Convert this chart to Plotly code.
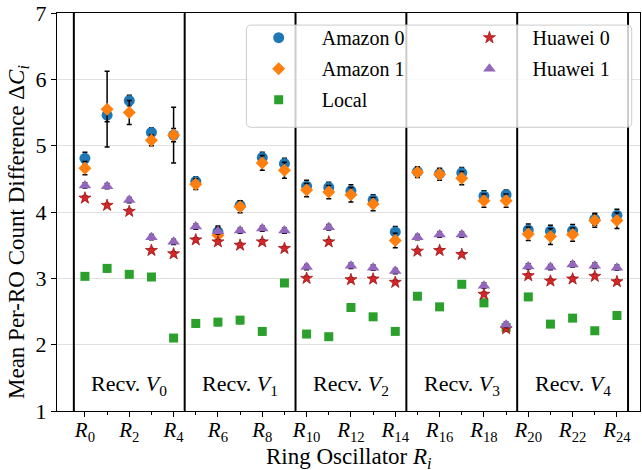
import plotly.graph_objects as go

ro_index = list(range(25))
tick_vals = list(range(0, 25, 2))
tick_text = [f"<i>R</i><sub>{i}</sub>" for i in tick_vals]
group_centers = [2, 7, 12, 17, 22]
group_labels = [f"Recv. <i>V</i><sub>{i}</sub>" for i in range(5)]
separators = [-0.5, 4.5, 9.5, 14.5, 19.5, 24.5]

amazon0 = [4.81, 5.46, 5.68, 5.20, 5.16, 4.46, 3.70, 4.10, 4.82, 4.73, 4.39, 4.37, 4.32, 4.18, 3.70,
           4.61, 4.58, 4.59, 4.24, 4.26, 3.73, 3.71, 3.72, 3.89, 3.95]
amazon0_err = [0.09, 0.10, 0.08, 0.07, 0.10, 0.07, 0.09, 0.07, 0.08, 0.08, 0.09, 0.08, 0.09, 0.08, 0.08,
               0.07, 0.07, 0.08, 0.08, 0.07, 0.09, 0.09, 0.09, 0.09, 0.09]
amazon1 = [4.66, 5.55, 5.50, 5.08, 5.16, 4.42, 3.65, 4.08, 4.74, 4.63, 4.33, 4.30, 4.26, 4.12, 3.57,
           4.60, 4.57, 4.51, 4.17, 4.17, 3.67, 3.63, 3.66, 3.87, 3.87]
amazon1_err = [0.10, 0.57, 0.18, 0.08, 0.42, 0.08, 0.12, 0.09, 0.11, 0.12, 0.10, 0.10, 0.11, 0.10, 0.11,
               0.08, 0.09, 0.10, 0.10, 0.10, 0.10, 0.12, 0.10, 0.10, 0.12]
local = [3.03, 3.15, 3.06, 3.02, 2.10, 2.32, 2.34, 2.37, 2.20, 2.93, 2.16, 2.12, 2.56, 2.42, 2.20,
         2.73, 2.57, 2.91, 2.63, 2.26, 2.72, 2.31, 2.40, 2.21, 2.44]
local_err = [0.03, 0.05, 0.03, 0.03, 0.04, 0.05, 0.05, 0.05, 0.05, 0.03, 0.04, 0.03, 0.04, 0.04, 0.04,
             0.04, 0.04, 0.03, 0.05, 0.04, 0.04, 0.04, 0.04, 0.04, 0.05]
huawei0 = [4.21, 4.10, 4.01, 3.42, 3.37, 3.58, 3.55, 3.50, 3.55, 3.45, 3.00, 3.55, 2.98, 2.99, 2.94,
           3.41, 3.42, 3.36, 2.76, 2.24, 3.04, 2.96, 2.99, 3.03, 2.95]
huawei0_err = [0.03] * 25
huawei1 = [4.40, 4.39, 4.18, 3.62, 3.55, 3.78, 3.71, 3.72, 3.75, 3.72, 3.17, 3.77, 3.19, 3.16, 3.11,
           3.62, 3.66, 3.66, 2.89, 2.30, 3.18, 3.17, 3.21, 3.19, 3.16]
huawei1_err = [0.04] * 25

FONT = "Liberation Serif"

series = [
    ("Amazon 0", amazon0, amazon0_err, "#1f77b4", "circle", 11, "legend", None),
    ("Amazon 1", amazon1, amazon1_err, "#ff7f0e", "diamond", 10, "legend", None),
    ("Local", local, local_err, "#2ca02c", "square", 9, "legend", None),
    ("Huawei 0", huawei0, huawei0_err, "#d62728", "star", 9, "legend2", "#a01818"),
    ("Huawei 1", huawei1, huawei1_err, "#9467bd", "triangle-up", 11, "legend2", None),
]

fig = go.Figure()
for name, vals, errs, color, sym, size, leg, edge in series:
    fig.add_trace(go.Scatter(
        x=ro_index, y=vals, mode="markers", name=name, legend=leg,
        legendgroup=name,
        marker=dict(color=color, symbol=sym, size=size,
                    line=dict(width=0.8 if edge else 0, color=edge or color)),
        error_y=dict(type="data", array=errs, visible=True, color="black", thickness=1.5, width=2.5),
    ))

shapes = []
for s in separators:
    shapes.append(dict(type="line", xref="x", yref="paper", x0=s, x1=s, y0=0, y1=1,
                       line=dict(color="black", width=2), layer="above"))

# rounded legend frame
x0, x1, y0, y1 = 0.3248, 0.9858, 0.7129, 0.9696
rx, ry = 5 / 584, 5 / 404
path = (f"M {x0+rx},{y1} L {x1-rx},{y1} Q {x1},{y1} {x1},{y1-ry} L {x1},{y0+ry} "
        f"Q {x1},{y0} {x1-rx},{y0} L {x0+rx},{y0} Q {x0},{y0} {x0},{y0+ry} "
        f"L {x0},{y1-ry} Q {x0},{y1} {x0+rx},{y1} Z")
shapes.append(dict(type="path", xref="paper", yref="paper", path=path,
                   fillcolor="rgba(255,255,255,0.8)", line=dict(color="#cccccc", width=1), layer="above"))

annotations = []
for c, t in zip(group_centers, group_labels):
    annotations.append(dict(x=c, y=1.39, xref="x", yref="y", text=t, showarrow=False,
                            font=dict(family=FONT, size=22, color="black"), xanchor="center", yanchor="middle"))
# axis titles as annotations for precise placement
annotations.append(dict(x=0, y=0.5, xref="paper", yref="paper", xshift=-39, yshift=-20,
                        xanchor="center", yanchor="middle",
                        text="Mean Per-RO Count Difference Δ<i>C</i><sub><i>i</i></sub>", textangle=-90,
                        showarrow=False, font=dict(family=FONT, size=23, color="black")))
annotations.append(dict(x=0.5, y=0, xref="paper", yref="paper", yshift=-47,
                        xanchor="center", yanchor="middle",
                        text="Ring Oscillator <i>R</i><sub><i>i</i></sub>",
                        showarrow=False, font=dict(family=FONT, size=23, color="black")))

legend_common = dict(xanchor="left", yanchor="top", bgcolor="rgba(0,0,0,0)",
                     font=dict(family=FONT, size=20), itemwidth=76, tracegroupgap=2,
                     traceorder="grouped")
fig.update_layout(
    width=642, height=470,
    margin=dict(l=57, r=1, t=7, b=59),
    plot_bgcolor="white", paper_bgcolor="white",
    font=dict(family=FONT, size=22, color="black"),
    shapes=shapes, annotations=annotations,
    legend=dict(x=0.3065, y=0.987, **legend_common),
    legend2=dict(x=0.668, y=0.987, **legend_common),
    showlegend=True,
)
fig.update_xaxes(
    range=[-1.26, 25.04], tickvals=tick_vals, ticktext=tick_text,
    ticks="outside", ticklen=5, tickwidth=1, tickcolor="black",
    ticklabelstandoff=-5,
    minor=dict(tickvals=list(range(1, 25, 2)), ticks="outside", ticklen=3, tickwidth=1, tickcolor="black"),
    showline=True, linecolor="black", linewidth=1, mirror=True, showgrid=False, zeroline=False,
    tickfont=dict(size=21),
)
fig.update_yaxes(
    range=[1, 7], tickvals=[1, 2, 3, 4, 5, 6, 7], ticks="outside", ticklen=5, tickwidth=1, tickcolor="black",
    ticklabeloverflow="allow",
    showline=True, linecolor="black", linewidth=1, mirror=True,
    showgrid=True, gridcolor="#e0e0e0", gridwidth=1, zeroline=False,
    tickfont=dict(size=22),
)
fig.write_html("out.html")
